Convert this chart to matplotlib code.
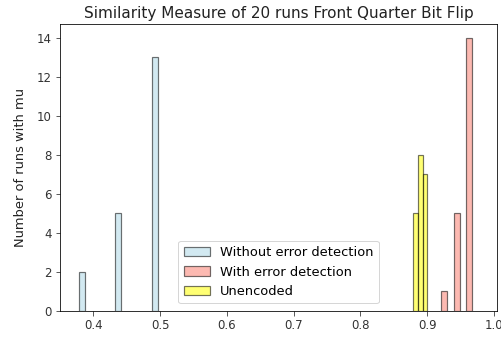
import matplotlib
matplotlib.use("Agg")
import matplotlib.pyplot as plt

# Histogram bins (left edge, width) and run counts per series
without_left = [0.378, 0.4327, 0.4874]
without_width = 0.0091
without_counts = [2, 5, 13]

with_left = [0.921, 0.9394, 0.9578]
with_width = 0.0092
with_counts = [1, 5, 14]

unenc_left = [0.8787, 0.8859, 0.8932]
unenc_width = 0.0072
unenc_counts = [5, 8, 7]

labels = ["Without error detection", "With error detection", "Unencoded"]

dpi = 72
fig = plt.figure(figsize=(501 / dpi, 339 / dpi), dpi=dpi)
ax = fig.add_axes([60 / 501, 28 / 339, 437 / 501, 287 / 339])

style = dict(align="edge", alpha=0.55, edgecolor="black", linewidth=1.2)
ax.bar(without_left, without_counts, width=without_width, color="lightblue",
       label=labels[0], **style)
ax.bar(with_left, with_counts, width=with_width, color="salmon",
       label=labels[1], **style)
ax.bar(unenc_left, unenc_counts, width=unenc_width, color="yellow",
       label=labels[2], **style)

ax.set_xlim(0.35, 1.0045)
ax.set_ylim(0, 14.7)
ax.set_xticks([0.4, 0.5, 0.6, 0.7, 0.8, 0.9, 1.0])
ax.set_yticks(range(0, 15, 2))
ax.tick_params(labelsize=11.7, length=4.5, colors="#333333", labelcolor="#333333")
ax.set_title("Similarity Measure of 20 runs Front Quarter Bit Flip",
             fontsize=15.2, color="#222222", pad=6)
ax.set_ylabel("Number of runs with mu", fontsize=13, color="#222222", labelpad=10)
ax.legend(loc="lower center", fontsize=13, borderaxespad=0.6)

fig.savefig("out.png", dpi=dpi)
